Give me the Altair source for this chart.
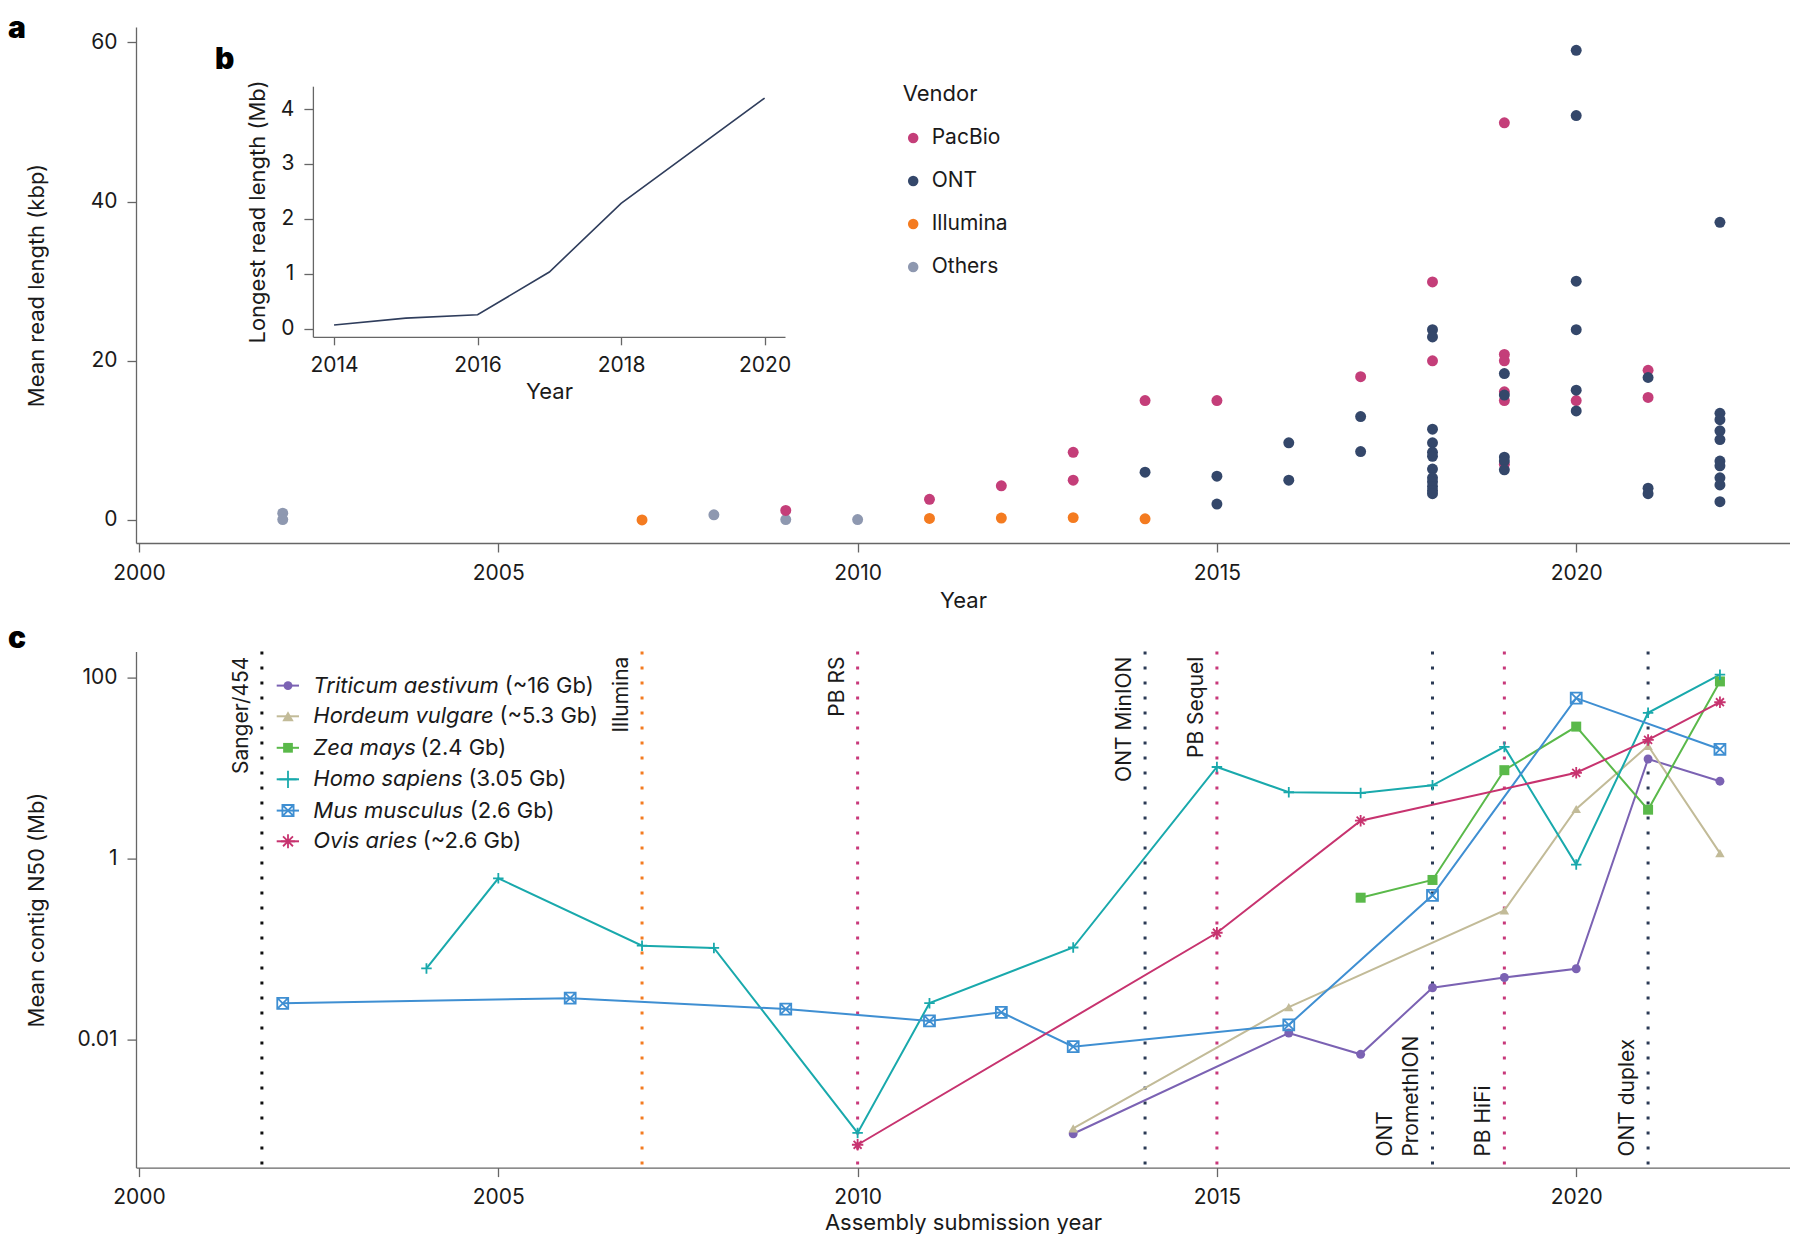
import altair as alt
import pandas as pd

FONT = "Inter"
INK = "#1a1a1a"
AX = "#666666"

# ---------------- panel a : mean read length (kbp) per vendor ----------------
pacbio_years = [2009, 2011, 2012, 2013, 2013, 2014, 2015, 2017, 2018, 2018,
                2019, 2019, 2019, 2019, 2019, 2019, 2020, 2021, 2021]
pacbio_kbp = [1.2, 2.6, 4.3, 8.5, 5.0, 15.0, 15.0, 18.0, 29.9, 20.0,
              49.9, 20.8, 20.0, 16.1, 15.0, 7.0, 15.0, 18.8, 15.4]

ont_years = [2014, 2015, 2015, 2016, 2016, 2017, 2017,
             2018, 2018, 2018, 2018, 2018, 2018, 2018, 2018, 2018, 2018, 2018, 2018,
             2019, 2019, 2019, 2019, 2019,
             2020, 2020, 2020, 2020, 2020, 2020,
             2021, 2021, 2021,
             2022, 2022, 2022, 2022, 2022, 2022, 2022, 2022, 2022, 2022]
ont_kbp = [6.0, 5.5, 2.0, 9.7, 5.0, 13.0, 8.6,
           23.9, 23.0, 11.4, 9.7, 8.5, 8.0, 6.4, 5.3, 4.8, 4.2, 3.7, 3.3,
           18.4, 15.7, 7.9, 7.4, 6.3,
           59.0, 50.8, 30.0, 23.9, 16.3, 13.7,
           17.9, 4.0, 3.3,
           37.4, 13.4, 12.6, 11.2, 10.1, 7.4, 6.8, 5.3, 4.4, 2.3]

illumina_years = [2007, 2011, 2012, 2013, 2014]
illumina_kbp = [0.0, 0.2, 0.25, 0.3, 0.15]

others_years = [2002, 2002, 2008, 2009, 2010]
others_kbp = [0.85, 0.05, 0.65, 0.05, 0.05]

vendor_order = ["PacBio", "ONT", "Illumina", "Others"]
vendor_colors = ["#c43e79", "#34476a", "#f47b20", "#8e98b0"]

# ---------------- panel b : longest read length (Mb) ----------------
inset_years = [2014, 2015, 2016, 2017, 2018, 2020]
inset_mb = [0.065, 0.19, 0.25, 1.03, 2.28, 4.2]

# ---------------- panel c : mean contig N50 (Mb) ----------------
species_names = ["Triticum aestivum", "Hordeum vulgare", "Zea mays",
                 "Homo sapiens", "Mus musculus", "Ovis aries"]
species_sizes = ["(~16 Gb)", "(~5.3 Gb)", "(2.4 Gb)", "(3.05 Gb)", "(2.6 Gb)", "(~2.6 Gb)"]
species_colors = ["#7b62b3", "#c2bb98", "#5ab94a", "#19a9ac", "#3f8fd2", "#c7336f"]

triticum_years = [2013, 2016, 2017, 2018, 2019, 2020, 2021, 2022]
triticum_mb = [0.0009, 0.0117, 0.0068, 0.037, 0.048, 0.06, 12.5, 7.1]
hordeum_years = [2013, 2016, 2019, 2020, 2021, 2022]
hordeum_mb = [0.00103, 0.0226, 0.265, 3.5, 17.5, 1.14]
zea_years = [2017, 2018, 2019, 2020, 2021, 2022]
zea_mb = [0.366, 0.575, 9.4, 28.5, 3.44, 90]
homo_years = [2004, 2005, 2007, 2008, 2010, 2011, 2013, 2015, 2016, 2017, 2018, 2019, 2020, 2021, 2022]
homo_mb = [0.0605, 0.60, 0.108, 0.102, 0.00092, 0.025, 0.103, 10.2, 5.36, 5.25, 6.4, 17.0, 0.85, 40.5, 107]
mus_years = [2002, 2006, 2009, 2011, 2012, 2013, 2016, 2018, 2020, 2022]
mus_mb = [0.0249, 0.0284, 0.0215, 0.0159, 0.0198, 0.00826, 0.01436, 0.389, 58.8, 16.0]
ovis_years = [2010, 2015, 2017, 2020, 2021, 2022]
ovis_mb = [0.00068, 0.15, 2.6, 8.8, 20.3, 53]

event_years = [2001.71, 2007, 2010, 2014, 2015, 2018, 2019, 2021]
event_labels = ["Sanger/454", "Illumina", "PB RS", "ONT MinION", "PB Sequel",
                "ONT\nPromethION", "PB HiFi", "ONT duplex"]
event_colors = ["#111111", "#f47b20", "#c8387a", "#2b3a55", "#c8387a",
                "#2b3a55", "#c8387a", "#2b3a55"]
event_place = ["top", "top", "top", "top", "top", "bottom2", "bottom", "bottom"]

# ---------------- tables ----------------
rows = []
for v, ys, ks in [("Others", others_years, others_kbp),
                  ("Illumina", illumina_years, illumina_kbp),
                  ("PacBio", pacbio_years, pacbio_kbp),
                  ("ONT", ont_years, ont_kbp)]:
    for y, k in zip(ys, ks):
        rows.append({"year": y, "kbp": k, "vendor": v})
df_a = pd.DataFrame(rows)
df_b = pd.DataFrame({"yr": inset_years, "mb": inset_mb})

series = [triticum_years, hordeum_years, zea_years, homo_years, mus_years, ovis_years]
values = [triticum_mb, hordeum_mb, zea_mb, homo_mb, mus_mb, ovis_mb]
rows = []
for name, ys, vs in zip(species_names, series, values):
    for y, v in zip(ys, vs):
        rows.append({"year": y, "n50": v, "species": name})
df_c = pd.DataFrame(rows)
df_ev = pd.DataFrame({"year": event_years, "label": event_labels,
                      "col": event_colors, "place": event_place})

# ---------------- geometry ----------------
W, H = 1654, 516
PXY = 71.86
X_MIN = 1999.958
X_MAX = X_MIN + W / PXY

xscale = alt.Scale(domain=[X_MIN, X_MAX], nice=False, zero=False)
year_ticks = [2000, 2005, 2010, 2015, 2020]

shape_paths = {
    "Triticum aestivum": "circle",
    "Hordeum vulgare": "triangle-up",
    "Zea mays": "square",
    "Homo sapiens": "M-1,0L1,0M0,-1L0,1",
    "Mus musculus": "M-1,-1L1,-1L1,1L-1,1ZM-1,-1L1,1M1,-1L-1,1",
    "Ovis aries": "M-1,0L1,0M0,-1L0,1M-0.7,-0.7L0.7,0.7M-0.7,0.7L0.7,-0.7",
}
shape_size = {"Triticum aestivum": 80, "Hordeum vulgare": 130, "Zea mays": 95,
              "Homo sapiens": 300, "Mus musculus": 125, "Ovis aries": 200}
filled_species = ["Triticum aestivum", "Hordeum vulgare", "Zea mays"]
stroked_species = ["Homo sapiens", "Mus musculus", "Ovis aries"]

# ---------------- panel a ----------------
pts = alt.Chart(df_a).mark_circle(size=120, opacity=1).encode(
    x=alt.X("year:Q", scale=xscale,
            axis=alt.Axis(values=year_ticks, format="d", title="Year", titleY=47)),
    y=alt.Y("kbp:Q", scale=alt.Scale(domain=[-2.89, 61.93], nice=False, zero=False),
            axis=alt.Axis(values=[0, 20, 40, 60], title="Mean read length (kbp)", titleX=-88)),
    color=alt.Color("vendor:N", scale=alt.Scale(domain=vendor_order, range=vendor_colors),
                    legend=alt.Legend(orient="none", legendX=766.7, legendY=56.5,
                                      title="Vendor", titleFontSize=22, titleFontWeight="normal",
                                      titleColor=INK, titleFont=FONT, titlePadding=22,
                                      labelFont=FONT, labelFontSize=21, labelColor=INK,
                                      labelOffset=8, symbolType="circle", symbolSize=110,
                                      symbolStrokeWidth=0, symbolOpacity=1, rowPadding=21,
                                      padding=0)),
)

inset = alt.Chart(df_b).mark_line(color="#2f3d5c", strokeWidth=1.6).encode(
    x=alt.X("yr:Q", scale=alt.Scale(domain=[2013.705, 2020.284], range=[176.9, 649],
                                    nice=False, zero=False),
            axis=alt.Axis(orient="bottom", offset=309.8 - H, values=[2014, 2016, 2018, 2020],
                          format="d", title="Year", titleY=44.7, tickSize=8)),
    y=alt.Y("mb:Q", scale=alt.Scale(domain=[-0.151, 4.417], range=[309.8, 59.2],
                                    nice=False, zero=False),
            axis=alt.Axis(orient="left", offset=-176.9, values=[0, 1, 2, 3, 4],
                          title="Longest read length (Mb)", titleX=-43.4)),
)


def panel_letter(t, x, y):
    return alt.Chart(pd.DataFrame({"t": [t]})).mark_text(
        font=FONT, fontSize=30, fontWeight=900, align="left", baseline="top", color="#000"
    ).encode(text="t:N", x=alt.value(x), y=alt.value(y))


panel_a = alt.layer(pts, inset, panel_letter("a", -128, -13), panel_letter("b", 79, 18)).resolve_scale(
    x="independent", y="independent").properties(width=W, height=H)

# ---------------- panel c ----------------
yscale_c = alt.Scale(type="log", domain=[10 ** -3.42, 10 ** 2.284], nice=False)
col_scale = alt.Scale(domain=species_names, range=species_colors)

rules = alt.Chart(df_ev).mark_rule(strokeWidth=3, strokeDash=[3, 12], strokeCap="butt").encode(
    x=alt.X("year:Q", scale=xscale,
            axis=alt.Axis(values=year_ticks, format="d", title="Assembly submission year", titleY=45)),
    color=alt.Color("col:N", scale=None),
)

lines = alt.Chart(df_c).mark_line(strokeWidth=2).encode(
    x=alt.X("year:Q", scale=xscale),
    y=alt.Y("n50:Q", scale=yscale_c,
            axis=alt.Axis(values=[0.01, 1, 100], format="~g", title="Mean contig N50 (Mb)", titleX=-88)),
    color=alt.Color("species:N", scale=col_scale, legend=None),
    order="year:Q",
)

shape_scale = alt.Scale(domain=species_names, range=[shape_paths[s] for s in species_names])
size_scale = alt.Scale(domain=species_names, range=[shape_size[s] for s in species_names])

pts_filled = alt.Chart(df_c).transform_filter(
    alt.FieldOneOfPredicate(field="species", oneOf=filled_species)
).mark_point(filled=True, opacity=1, strokeWidth=0).encode(
    x="year:Q", y="n50:Q",
    color=alt.Color("species:N", scale=col_scale, legend=None),
    shape=alt.Shape("species:N", scale=shape_scale, legend=None),
    size=alt.Size("species:N", scale=size_scale, legend=None),
)
pts_stroked = alt.Chart(df_c).transform_filter(
    alt.FieldOneOfPredicate(field="species", oneOf=stroked_species)
).mark_point(filled=False, opacity=1, strokeWidth=1.8).encode(
    x="year:Q", y="n50:Q",
    color=alt.Color("species:N", scale=col_scale, legend=None),
    shape=alt.Shape("species:N", scale=shape_scale, legend=None),
    size=alt.Size("species:N", scale=size_scale, legend=None),
)

label_style = dict(angle=270, baseline="bottom", font=FONT, fontSize=21,
                   color=INK, lineBreak="\n", lineHeight=26)
top_labels = alt.Chart(df_ev).transform_filter(alt.datum.place == "top").mark_text(
    align="right", dx=-5, dy=-10, **label_style
).encode(x="year:Q", y=alt.value(0), text="label:N")

bottom_labels = alt.Chart(df_ev).transform_filter(alt.datum.place == "bottom").mark_text(
    align="left", dx=11, dy=-10, **label_style
).encode(x="year:Q", y=alt.value(H), text="label:N")

bottom_labels2 = alt.Chart(df_ev).transform_filter(alt.datum.place == "bottom2").mark_text(
    align="left", dx=11, dy=-36, **label_style
).encode(x="year:Q", y=alt.value(H), text="label:N")

# manual legend (italic species name + upright genome size)
leg_rows = [34.0, 64.7, 96.2, 127.7, 159.0, 189.7]
size_x = [368.7, 363.5, 284.5, 332.6, 333.8, 286.7]
one = pd.DataFrame({"k": [0]})
legend_layers = []
for i, s in enumerate(species_names):
    yc = leg_rows[i]
    c = species_colors[i]
    legend_layers.append(alt.Chart(one).mark_rule(color=c, strokeWidth=2).encode(
        x=alt.value(140.7), x2=alt.value(163), y=alt.value(yc)))
    legend_layers.append(alt.Chart(one).mark_point(
        shape=shape_paths[s], size=shape_size[s], color=c, opacity=1,
        filled=s in filled_species, strokeWidth=0 if s in filled_species else 1.8
    ).encode(x=alt.value(152), y=alt.value(yc)))
    legend_layers.append(alt.Chart(one).mark_text(
        align="left", baseline="middle", font=FONT, fontSize=22, fontStyle="italic", color=INK
    ).encode(x=alt.value(177.3), y=alt.value(yc), text=alt.value(s)))
    legend_layers.append(alt.Chart(one).mark_text(
        align="left", baseline="middle", font=FONT, fontSize=22, color=INK
    ).encode(x=alt.value(size_x[i]), y=alt.value(yc), text=alt.value(species_sizes[i])))

panel_c = alt.layer(rules, lines, pts_filled, pts_stroked, top_labels, bottom_labels,
                    bottom_labels2, *legend_layers, panel_letter("c", -128, -28)).properties(
    width=W, height=H)

chart = alt.vconcat(panel_a, panel_c, spacing=108.6, bounds="flush").resolve_scale(
    color="independent", shape="independent", size="independent"
).properties(padding={"top": 6, "left": 0, "right": 0, "bottom": 0}).configure_view(
    stroke=None
).configure_axis(
    labelFont=FONT, titleFont=FONT, labelFontSize=21, titleFontSize=22,
    labelColor=INK, titleColor=INK, titleFontWeight="normal",
    domainColor=AX, tickColor=AX, domainWidth=1.3, tickWidth=1.3,
    tickSize=9, labelPadding=10, grid=False,
)

chart.save("out.html", embed_options={"renderer": "svg", "actions": False})
